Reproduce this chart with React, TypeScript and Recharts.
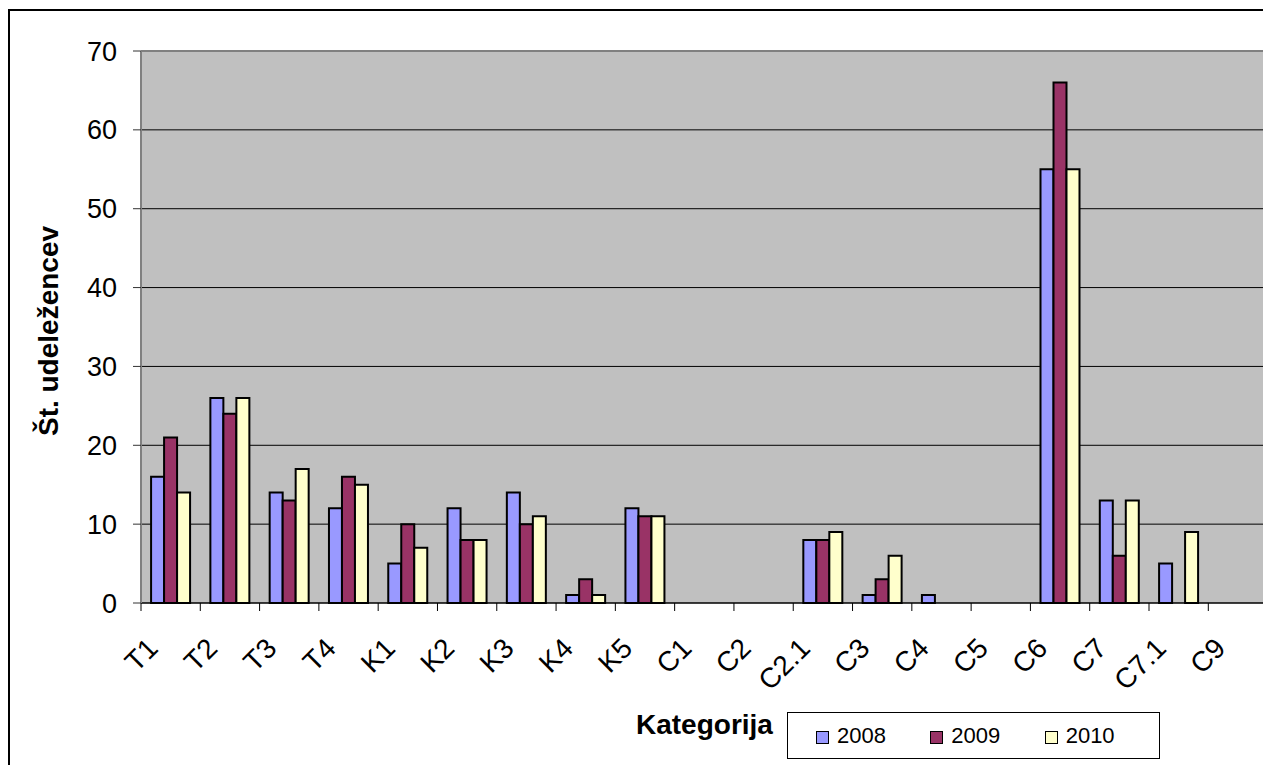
import React from 'react';
import { BarChart, Bar, XAxis, YAxis, CartesianGrid, ReferenceLine } from 'recharts';

const categories = ['T1', 'T2', 'T3', 'T4', 'K1', 'K2', 'K3', 'K4', 'K5', 'C1', 'C2', 'C2.1', 'C3', 'C4', 'C5', 'C6', 'C7', 'C7.1', 'C9'];
const values2008 = [16, 26, 14, 12, 5, 12, 14, 1, 12, 0, 0, 8, 1, 1, 0, 55, 13, 5, 0];
const values2009 = [21, 24, 13, 16, 10, 8, 10, 3, 11, 0, 0, 8, 3, 0, 0, 66, 6, 0, 0];
const values2010 = [14, 26, 17, 15, 7, 8, 11, 1, 11, 0, 0, 9, 6, 0, 0, 55, 13, 9, 0];
const yTicks = [0, 10, 20, 30, 40, 50, 60, 70];

const series = [
  { key: 'y2008', name: '2008', color: '#9999FF' },
  { key: 'y2009', name: '2009', color: '#993366' },
  { key: 'y2010', name: '2010', color: '#FFFFCC' },
];

const data = categories.map((cat, i) => ({
  cat,
  y2008: values2008[i],
  y2009: values2009[i],
  y2010: values2010[i],
}));

const FONT = '"Liberation Sans", Arial, sans-serif';
const CHART_W = 1300;
const CHART_H = 765;
const PLOT_LEFT = 141;
const PLOT_RIGHT = 1267.6;
const BAND = (PLOT_RIGHT - PLOT_LEFT) / categories.length;

// Excel puts the tick marks between categories, so draw them from the tick renderer
const CategoryTick = (props: any) => {
  const { x, y, payload } = props;
  const tx = x - 11;
  const ty = y + 39;
  return (
    <g>
      <line x1={x - BAND / 2} y1={y - 8} x2={x - BAND / 2} y2={y} stroke="#000" />
      <text
        x={tx}
        y={ty}
        transform={`rotate(-45 ${tx} ${ty})`}
        textAnchor="end"
        fontSize={28}
        fontFamily={FONT}
        fill="#000"
      >
        {payload.value}
      </text>
    </g>
  );
};

const App = () => {
  return (
    <div style={{ position: 'fixed', left: 0, top: 0, width: 1263, height: 765, overflow: 'hidden', background: '#fff', fontFamily: FONT }}>
      <div style={{ position: 'absolute', left: 8, top: 9, width: 1300, height: 800, border: '2px solid #000' }} />
      <div style={{ position: 'absolute', left: 0, top: 0 }}>
        <BarChart
          width={CHART_W}
          height={CHART_H}
          data={data}
          margin={{ top: 51, right: CHART_W - PLOT_RIGHT, left: 0, bottom: 62 }}
          barCategoryGap="17%"
          barGap={0}
        >
          <CartesianGrid vertical={false} stroke="#000" fill="#C0C0C0" fillOpacity={1} />
          <XAxis
            dataKey="cat"
            interval={0}
            height={100}
            tickLine={false}
            tickSize={8}
            tickMargin={0}
            axisLine={{ stroke: '#000' }}
            tick={<CategoryTick />}
          />
          <YAxis
            width={PLOT_LEFT}
            domain={[0, 70]}
            ticks={yTicks}
            interval={0}
            tickSize={8}
            tickMargin={16}
            axisLine={{ stroke: '#808080', strokeWidth: 2 }}
            tickLine={{ stroke: '#333' }}
            tick={{ fontSize: 27, fontFamily: FONT, fill: '#000' }}
          />
          <ReferenceLine y={70} stroke="#808080" strokeWidth={2} />
          {series.map((s) => (
            <Bar
              key={s.key}
              dataKey={s.key}
              name={s.name}
              fill={s.color}
              stroke="#000"
              strokeWidth={2}
              isAnimationActive={false}
            />
          ))}
        </BarChart>
      </div>
      <div
        style={{
          position: 'absolute',
          left: 49,
          top: 331,
          transform: 'translate(-50%, -50%) rotate(-90deg)',
          whiteSpace: 'nowrap',
          fontWeight: 'bold',
          fontSize: 28,
          lineHeight: '28px',
        }}
      >
        Št. udeležencev
      </div>
      <div
        style={{
          position: 'absolute',
          left: 636,
          top: 711,
          whiteSpace: 'nowrap',
          fontWeight: 'bold',
          fontSize: 28,
          lineHeight: '28px',
        }}
      >
        Kategorija
      </div>
      <div
        style={{
          position: 'absolute',
          left: 787,
          top: 712,
          width: 373,
          height: 47,
          boxSizing: 'border-box',
          border: '1px solid #000',
          background: '#fff',
          display: 'flex',
          alignItems: 'center',
          paddingLeft: 28,
        }}
      >
        {series.map((s) => (
          <div key={s.key} style={{ width: 125, display: 'flex', alignItems: 'center' }}>
            <span style={{ width: 13, height: 13, boxSizing: 'border-box', border: '1px solid #000', background: s.color, marginRight: 8, marginTop: 4 }} />
            <span style={{ fontSize: 22, lineHeight: '22px' }}>{s.name}</span>
          </div>
        ))}
      </div>
    </div>
  );
};

export default App;
